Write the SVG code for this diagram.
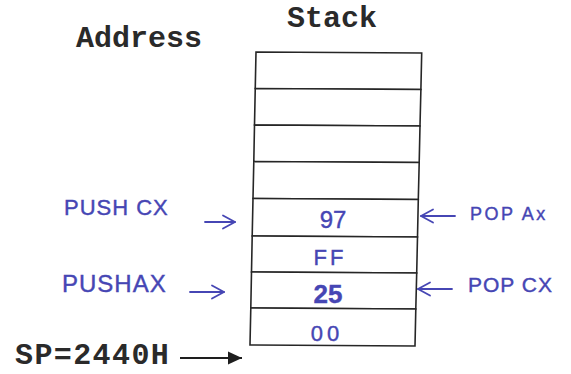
<svg xmlns="http://www.w3.org/2000/svg" width="571" height="374" viewBox="0 0 571 374">
  <style>
    .head { font-family: "Liberation Mono", "Courier New", monospace; font-weight: bold; font-size: 30px; fill: #2a2a2a; }
    .cell { fill: #ffffff; stroke: #262626; stroke-width: 1.6; stroke-linejoin: miter; }
    .ink { font-family: "Liberation Sans", Arial, sans-serif; fill: #4646b4; stroke: #4646b4; stroke-width: 0.4; }
    .val { font-family: "Liberation Sans", Arial, sans-serif; fill: #4646b4; stroke: #4646b4; stroke-width: 0.4; text-anchor: middle; }
    .pen { stroke: #4646b4; stroke-width: 1.8; fill: none; stroke-linecap: round; }
    .sp { stroke: #1e1e1e; stroke-width: 1.8; fill: none; }
  </style>
  <defs>
    <marker id="open-head" markerUnits="userSpaceOnUse" markerWidth="16" markerHeight="16" refX="14" refY="8" orient="auto">
      <path d="M 2 1.5 L 14 8 L 2 14.5" fill="none" stroke="#4646b4" stroke-width="1.8" stroke-linecap="round" stroke-linejoin="round"/>
    </marker>
    <marker id="solid-head" markerUnits="userSpaceOnUse" markerWidth="16" markerHeight="14" refX="15" refY="7" orient="auto">
      <path d="M 1 0.5 L 15 7 L 1 13.5 Z" fill="#1e1e1e"/>
    </marker>
  </defs>

  <rect width="571" height="374" fill="#ffffff"/>

  <!-- headings -->
  <g id="title-stack"><text class="head" x="287" y="27">Stack</text></g>
  <g id="title-address"><text class="head" x="76" y="47">Address</text></g>

  <!-- stack cells, top to bottom (frame leans slightly) -->
  <g id="stack">
    <g id="cell-0"><polygon class="cell" points="256,52 421.7,53 420.9,89.5 255.25,88.5"/></g>
    <g id="cell-1"><polygon class="cell" points="255.25,88.5 420.9,89.5 420,126 254.5,125"/></g>
    <g id="cell-2"><polygon class="cell" points="254.5,125 420,126 419.2,162.5 253.8,161.5"/></g>
    <g id="cell-3"><polygon class="cell" points="253.8,161.5 419.2,162.5 418.3,199.5 253,198.5"/></g>
    <g id="cell-4">
      <polygon class="cell" points="253,198.5 418.3,199.5 417.5,237 252.2,236"/>
      <text class="val" x="333" y="228" font-size="24">97</text>
    </g>
    <g id="cell-5">
      <polygon class="cell" points="252.2,236 417.5,237 416.7,273 251.5,272"/>
      <text class="val" x="330" y="265" font-size="22" letter-spacing="3">FF</text>
    </g>
    <g id="cell-6">
      <polygon class="cell" points="251.5,272 416.7,273 415.8,309 250.8,308"/>
      <text class="val" x="328" y="303" font-size="26" font-weight="bold" fill="#3a3a9a" stroke="#3a3a9a">25</text>
    </g>
    <g id="cell-7">
      <polygon class="cell" points="250.8,308 415.8,309 415,346 250,345"/>
      <text class="val" x="327" y="341" font-size="22" letter-spacing="4">00</text>
    </g>
  </g>

  <!-- instruction labels -->
  <g id="push-cx"><text class="ink" x="64" y="215" font-size="22" letter-spacing="1">PUSH CX</text></g>
  <g id="push-ax"><text class="ink" x="62" y="292" font-size="24" letter-spacing="1">PUSHAX</text></g>
  <g id="pop-ax"><text class="ink" x="470" y="220" font-size="18" letter-spacing="2.5">POP Ax</text></g>
  <g id="pop-cx"><text class="ink" x="468" y="292" font-size="21" letter-spacing="1">POP CX</text></g>
  <g id="sp-label"><text class="head" x="15" y="364" font-size="28" letter-spacing="1.4">SP=2440H</text></g>

  <!-- connectors -->
  <g id="connectors">
    <line class="pen" x1="205" y1="222" x2="235" y2="222" marker-end="url(#open-head)"/>
    <line class="pen" x1="190" y1="292" x2="224" y2="292" marker-end="url(#open-head)"/>
    <line class="pen" x1="455" y1="216" x2="421" y2="216" marker-end="url(#open-head)"/>
    <line class="pen" x1="452" y1="289" x2="418" y2="289" marker-end="url(#open-head)"/>
    <line class="sp" x1="180" y1="358" x2="242" y2="358" marker-end="url(#solid-head)"/>
  </g>
</svg>
